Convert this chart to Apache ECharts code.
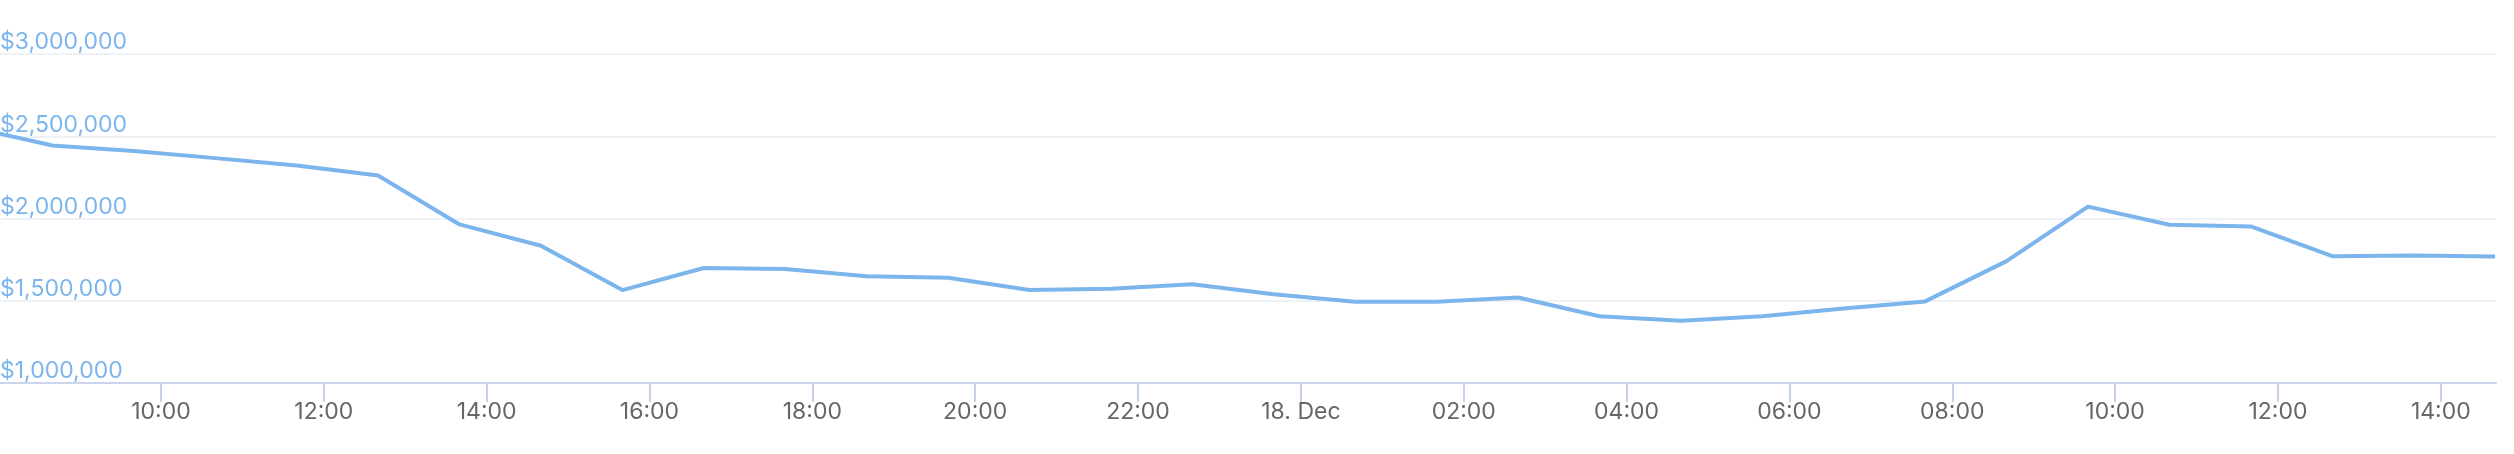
<!DOCTYPE html>
<html>
<head>
<meta charset="utf-8">
<script src="https://cdn.jsdelivr.net/npm/echarts@6/dist/echarts.min.js"></script>
<style>
html,body{margin:0;padding:0;background:#fff;}
#chart{width:2514px;height:454px;}
</style>
</head>
<body>
<div id="chart"></div>
<script>
// ---- data ----
const times = [
  '2023-12-17 07:40','2023-12-17 08:40','2023-12-17 09:40','2023-12-17 10:40','2023-12-17 11:40',
  '2023-12-17 12:40','2023-12-17 13:40','2023-12-17 14:40','2023-12-17 15:40','2023-12-17 16:40',
  '2023-12-17 17:40','2023-12-17 18:40','2023-12-17 19:40','2023-12-17 20:40','2023-12-17 21:40',
  '2023-12-17 22:40','2023-12-17 23:40','2023-12-18 00:40','2023-12-18 01:40','2023-12-18 02:40',
  '2023-12-18 03:40','2023-12-18 04:40','2023-12-18 05:40','2023-12-18 06:40','2023-12-18 07:40',
  '2023-12-18 08:40','2023-12-18 09:40','2023-12-18 10:40','2023-12-18 11:40','2023-12-18 12:40',
  '2023-12-18 13:40','2023-12-18 14:40'
];
const values = [
  2554000, 2444000, 2410000, 2367000, 2322000,
  2261000, 1964000, 1834000, 1565000, 1699000,
  1693000, 1649000, 1640000, 1565000, 1573000,
  1600000, 1539000, 1494000, 1494000, 1520000,
  1406000, 1378000, 1406000, 1453000, 1496000,
  1741000, 2072000, 1962000, 1952000, 1771000,
  1775000, 1769000
];
const xRange = ['2023-12-17 08:01:24', '2023-12-18 14:40:40'];
const xTickTimes = [
  '2023-12-17 10:00','2023-12-17 12:00','2023-12-17 14:00','2023-12-17 16:00','2023-12-17 18:00',
  '2023-12-17 20:00','2023-12-17 22:00','2023-12-18 00:00','2023-12-18 02:00','2023-12-18 04:00',
  '2023-12-18 06:00','2023-12-18 08:00','2023-12-18 10:00','2023-12-18 12:00','2023-12-18 14:00'
];
const xTickLabels = [
  '10:00','12:00','14:00','16:00','18:00','20:00','22:00','18. Dec',
  '02:00','04:00','06:00','08:00','10:00','12:00','14:00'
];
const yTickValues = [1000000, 1500000, 2000000, 2500000, 3000000];
const yTickLabels = ['$1,000,000','$1,500,000','$2,000,000','$2,500,000','$3,000,000'];

// ---- helpers ----
function ts(s){
  const [d,t] = s.split(' ');
  const [Y,M,D] = d.split('-').map(Number);
  const tp = t.split(':').map(Number);
  return Date.UTC(Y, M-1, D, tp[0], tp[1], tp[2]||0);
}
const xTickTs = xTickTimes.map(ts);
const seriesData = times.map((t,i)=>[ts(t), values[i]]);

const FONT = 'Inter, "Liberation Sans", Arial, sans-serif';
const chart = echarts.init(document.getElementById('chart'), null, {renderer:'canvas'});
chart.setOption({
  animation: false,
  backgroundColor: '#ffffff',
  grid: {left: 0, right: 18, top: 54, bottom: 71, containLabel: false, outerBoundsMode: 'none'},
  xAxis: {
    type: 'value',
    min: ts(xRange[0]),
    max: ts(xRange[1]),
    axisLine: {show: true, lineStyle: {color: '#ccd6eb', width: 2}},
    axisTick: {show: true, length: 19, lineStyle: {color: '#c6d2e8', width: 2}, customValues: xTickTs},
    axisLabel: {
      customValues: xTickTs,
      hideOverlap: false,
      showMinLabel: true, showMaxLabel: true,
      color: '#666666', fontFamily: FONT, fontSize: 23, margin: 18,
      formatter: function(v){ const i = xTickTs.indexOf(v); return i >= 0 ? xTickLabels[i] : ''; }
    },
    splitLine: {show: false}
  },
  yAxis: {
    type: 'value',
    min: 1000000, max: 3000000, interval: 500000,
    axisLine: {show: false},
    axisTick: {show: false},
    axisLabel: {
      inside: true, margin: 0, align: 'left', verticalAlign: 'bottom',
      color: '#7cb5ec', fontFamily: FONT, fontSize: 23, lineHeight: 23,
      formatter: function(v){ const i = yTickValues.indexOf(v); return i >= 0 ? yTickLabels[i] : ''; }
    },
    splitLine: {show: true, lineStyle: {color: '#eef2f7', width: 2}}
  },
  series: [{
    type: 'line',
    data: seriesData,
    showSymbol: false,
    clip: true,
    lineStyle: {color: '#7cb5ec', width: 4},
    itemStyle: {color: '#7cb5ec'},
    z: 3
  }]
});
</script>
</body>
</html>
